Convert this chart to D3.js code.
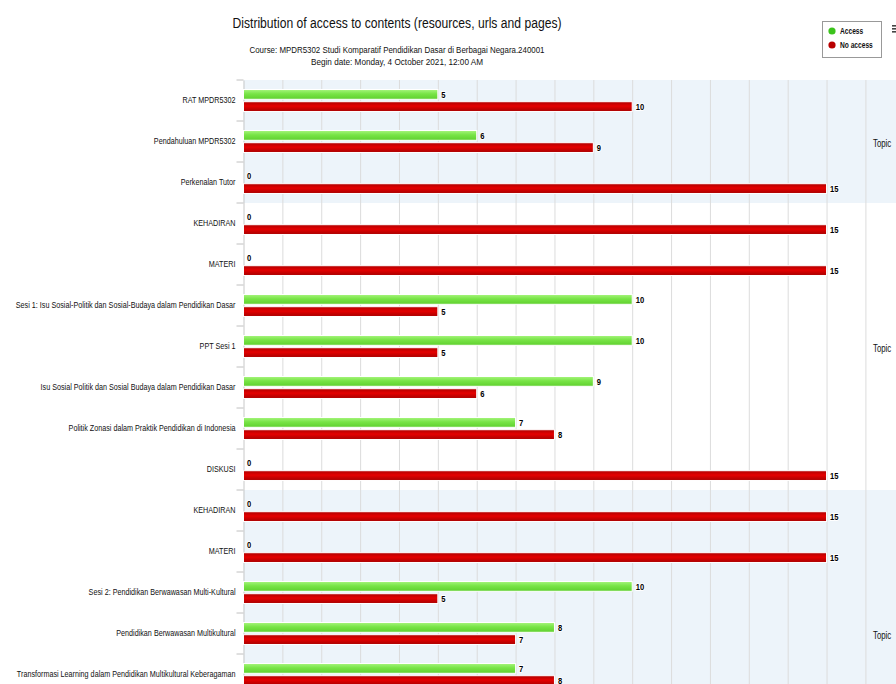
<!DOCTYPE html>
<html>
<head>
<meta charset="utf-8">
<script src="https://cdn.jsdelivr.net/npm/d3@7"></script>
<style>
  html, body { margin: 0; padding: 0; background: #fff; overflow: hidden; }
  svg { display: block; font-family: "Liberation Sans", Arial, sans-serif; }
</style>
</head>
<body>
<svg id="chart" width="896" height="684"></svg>
<script>
// ---- data ----
const titleText = "Distribution of access to contents (resources, urls and pages)";
const subtitleLines = [
  "Course: MPDR5302 Studi Komparatif Pendidikan Dasar di Berbagai Negara.240001",
  "Begin date: Monday, 4 October 2021, 12:00 AM"
];
const categories = [
  "RAT MPDR5302",
  "Pendahuluan MPDR5302",
  "Perkenalan Tutor",
  "KEHADIRAN",
  "MATERI",
  "Sesi 1: Isu Sosial-Politik dan Sosial-Budaya dalam Pendidikan Dasar",
  "PPT Sesi 1",
  "Isu Sosial Politik dan Sosial Budaya dalam Pendidikan Dasar",
  "Politik Zonasi dalam Praktik Pendidikan di Indonesia",
  "DISKUSI",
  "KEHADIRAN",
  "MATERI",
  "Sesi 2: Pendidikan Berwawasan Multi-Kultural",
  "Pendidikan Berwawasan Multikultural",
  "Transformasi Learning dalam Pendidikan Multikultural Keberagaman"
];
const accessValues   = [5, 6, 0, 0, 0, 10, 10, 9, 7, 0, 0, 0, 10, 8, 7];
const noAccessValues = [10, 9, 15, 15, 15, 5, 5, 6, 8, 15, 15, 15, 5, 7, 8];
const seriesNames = ["Access", "No access"];
const topicLabels = ["Topic", "Topic", "Topic"];
const topicStart  = [0, 3, 10];
const topicCount  = [3, 7, 7];
const xMax = 17;

// ---- layout ----
const svg = d3.select("#chart");
const plotLeft = 243.5, plotTop = 80, unit = 38.87, step = 41;
const x = d3.scaleLinear().domain([0, xMax]).range([plotLeft, plotLeft + unit * xMax]);
const y = d3.scaleBand().domain(d3.range(categories.length))
  .range([plotTop, plotTop + step * categories.length]);
const plotBottom = plotTop + step * 17;
const sub = d3.scaleBand().domain([0, 1]).range([0, y.bandwidth()])
  .paddingInner(0.2).paddingOuter(0.78);

function squish(sel, f) {
  sel.each(function() {
    const len = this.getComputedTextLength();
    d3.select(this).attr("textLength", len * f).attr("lengthAdjust", "spacingAndGlyphs");
  });
}
function fitWidth(sel, w) {
  sel.attr("textLength", w).attr("lengthAdjust", "spacingAndGlyphs");
}

// gradients
const defs = svg.append("defs");
const gG = defs.append("linearGradient").attr("id", "gGreen").attr("x1", 0).attr("y1", 0).attr("x2", 0).attr("y2", 1);
gG.append("stop").attr("offset", "0%").attr("stop-color", "#a6f57c");
gG.append("stop").attr("offset", "45%").attr("stop-color", "#78e446");
gG.append("stop").attr("offset", "100%").attr("stop-color", "#5fd02e");
const gR = defs.append("linearGradient").attr("id", "gRed").attr("x1", 0).attr("y1", 0).attr("x2", 0).attr("y2", 1);
gR.append("stop").attr("offset", "0%").attr("stop-color", "#b00000");
gR.append("stop").attr("offset", "45%").attr("stop-color", "#e40000");
gR.append("stop").attr("offset", "100%").attr("stop-color", "#a80000");
const seriesFill = ["url(#gGreen)", "url(#gRed)"];
const legendColor = ["#3cc31c", "#b80000"];

// plot bands
svg.append("g").selectAll("rect").data(topicStart).join("rect")
  .attr("x", plotLeft)
  .attr("y", (s) => y(s))
  .attr("width", x(xMax) - plotLeft)
  .attr("height", (s, i) => topicCount[i] * y.step())
  .attr("fill", (s, i) => i % 2 === 0 ? "#edf4fa" : "#ffffff");

// vertical gridlines
const grid = svg.append("g").attr("transform", `translate(0,${plotBottom})`)
  .call(d3.axisBottom(x).tickValues(d3.range(1, xMax + 1)).tickSize(-(plotBottom - plotTop)).tickFormat(""));
grid.select(".domain").remove();
grid.selectAll(".tick line").attr("stroke", "#dcdcdc").attr("stroke-width", 1);

// topic labels
const tl = svg.append("g").selectAll("text").data(topicStart).join("text")
  .attr("x", 873)
  .attr("y", (s, i) => y(s) + topicCount[i] * y.step() / 2 + 2)
  .attr("dy", "0.35em")
  .attr("font-size", 10)
  .attr("fill", "#111")
  .text((s, i) => topicLabels[i]);
squish(tl, 0.78);

// category axis
const ax = svg.append("g").attr("transform", `translate(${plotLeft},0)`)
  .call(d3.axisLeft(y).tickSize(0).tickPadding(8).tickFormat((i) => categories[i]));
ax.select(".domain").attr("stroke", "#c8c8c8");
ax.selectAll(".tick text").attr("font-size", 9).attr("fill", "#111")
  .attr("font-family", "'Liberation Sans', Arial, sans-serif");
squish(ax.selectAll(".tick text"), 0.8);

// boundary ticks
svg.append("g").selectAll("line").data(d3.range(categories.length + 1)).join("line")
  .attr("x1", plotLeft - 7).attr("x2", plotLeft)
  .attr("y1", (i) => plotTop + i * y.step()).attr("y2", (i) => plotTop + i * y.step())
  .attr("stroke", "#c0c0c0");

// bars
const series = [accessValues, noAccessValues];
series.forEach((vals, s) => {
  const g = svg.append("g");
  g.selectAll("rect").data(vals.map((d, i) => ({ d, i })).filter((o) => o.d > 0)).join("rect")
    .attr("x", x(0))
    .attr("y", (o) => y(o.i) + sub(s))
    .attr("width", (o) => x(o.d) - x(0))
    .attr("height", sub.bandwidth())
    .attr("fill", seriesFill[s])
    .attr("stroke", "#ffffff")
    .attr("stroke-width", 1);
  const lbl = g.selectAll("text").data(vals).join("text")
    .attr("x", (d) => x(d) + 3.5)
    .attr("y", (d, i) => y(i) + sub(s) + sub.bandwidth() / 2 - (d === 0 ? 1 : 0))
    .attr("dy", "0.36em")
    .attr("font-size", 9.5)
    .attr("font-weight", "bold")
    .attr("fill", "#000")
    .attr("stroke", "#fff").attr("stroke-width", 2).attr("paint-order", "stroke")
    .text((d) => d);
  squish(lbl, 0.8);
});

// title & subtitle
const t = svg.append("text").attr("x", 397).attr("y", 28).attr("text-anchor", "middle")
  .attr("font-size", 15.5).attr("fill", "#111").text(titleText);
fitWidth(t, 329);
const subW = [295, 172];
subtitleLines.forEach((line, i) => {
  const st = svg.append("text").attr("x", 397).attr("y", 52.5 + i * 12.5).attr("text-anchor", "middle")
    .attr("font-size", 8.5).attr("fill", "#111").text(line);
  fitWidth(st, subW[i]);
});

// legend
const lg = svg.append("g");
lg.append("rect").attr("x", 822.5).attr("y", 21.5).attr("width", 59).attr("height", 36)
  .attr("fill", "#fff").attr("stroke", "#999");
seriesNames.forEach((n, i) => {
  lg.append("circle").attr("cx", 832).attr("cy", 31 + i * 14).attr("r", 3.6).attr("fill", legendColor[i]);
  const lt = lg.append("text").attr("x", 840).attr("y", 31 + i * 14).attr("dy", "0.35em")
    .attr("font-size", 8.5).attr("font-weight", "bold").attr("fill", "#111").text(n);
  squish(lt, 0.78);
});
// menu icon (partially visible)
[25, 28, 31].forEach((yy) => {
  svg.append("rect").attr("x", 892).attr("y", yy).attr("width", 6).attr("height", 1.6).attr("fill", "#444");
});
</script>
</body>
</html>
